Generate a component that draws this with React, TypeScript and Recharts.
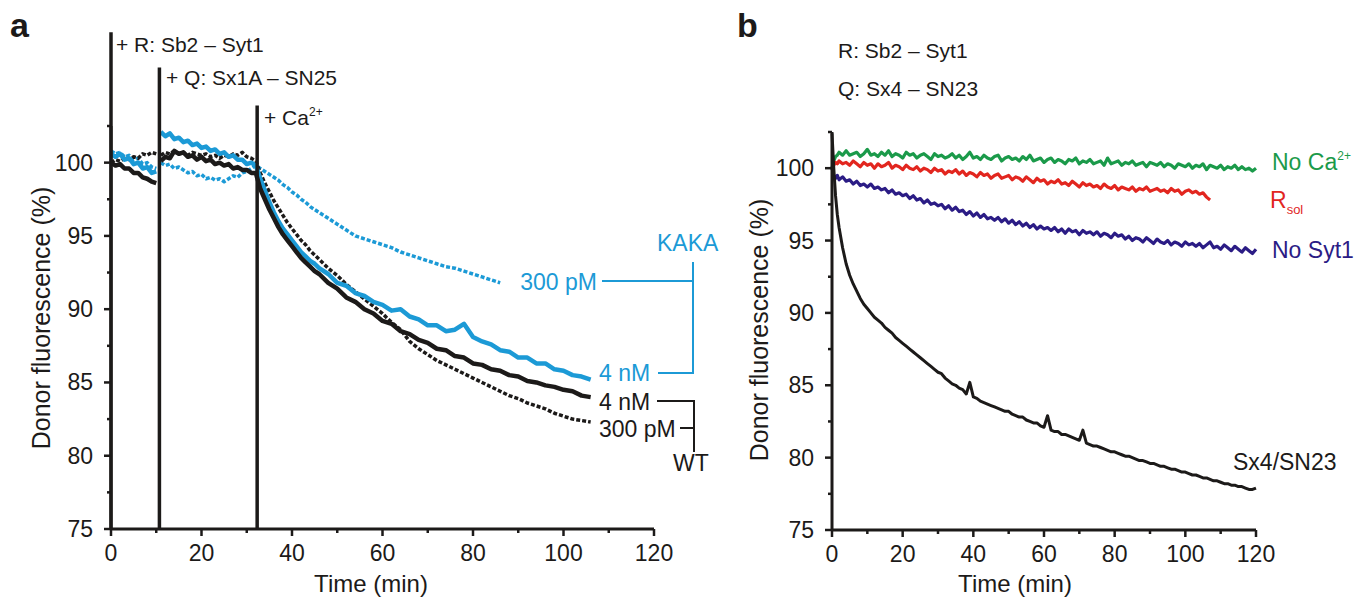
/* Donor fluorescence traces — two panels (a: Syt1/KAKA, b: Sx4/SN23) */

import { LineChart, Line, XAxis, YAxis, ReferenceLine } from 'recharts';

const FONT = "'Liberation Sans', Arial, Helvetica, sans-serif";
const INK = '#1c1a19';
const BLUE = '#1c9ad6';
const GREEN = '#1b9a4a';
const RED = '#e2261f';
const NAVY = '#2b1c85';

const X_TICKS = [0, 10, 20, 30, 40, 50, 60, 70, 80, 90, 100, 110, 120];
const Y_TICKS = [75, 77.5, 80, 82.5, 85, 87.5, 90, 92.5, 95, 97.5, 100, 102.5];

/* ── panel a ─────────────────────────────────────────────────────── */
// 10.7 is the Q addition: every trace is broken there
const TIME_A = [
  0, 1, 2, 3, 4, 5, 6, 7, 8, 9, 10, 10.7,
  11, 12, 13, 14, 15, 16, 17, 18, 19, 20, 21, 22, 23, 24, 25, 26, 27, 28, 29, 30, 31, 32,
  33, 34, 35, 36, 37, 38, 39, 40, 41, 42, 43, 44, 45,
  46, 48, 50, 52, 54, 56, 58, 60, 62, 64, 66, 68, 70, 72, 74, 76, 78, 80,
  82, 84, 86, 88, 90, 92, 94, 96, 98, 100, 102, 104, 106,
];
const WT_4NM = [
  100.0, 99.8, 99.9, 99.6, 99.6, 99.3, 99.3, 99.0, 98.9, 98.7, 98.6, null,
  100.1, 100.4, 100.3, 100.8, 100.6, 100.7, 100.4, 100.5, 100.2, 100.4, 100.1, 100.2, 99.9, 100.0, 99.8, 99.9, 99.6, 99.7, 99.5, 99.5, 99.3, 99.3,
  98.2, 97.5, 96.8, 96.2, 95.6, 95.1, 94.7, 94.3, 93.9, 93.5, 93.2, 92.9, 92.6,
  92.4, 91.8, 91.4, 90.8, 90.5, 90.0, 89.7, 89.2, 89.0, 88.5, 88.3, 87.9, 87.7, 87.3, 87.2, 86.8, 86.7, 86.3,
  86.2, 85.9, 85.8, 85.5, 85.4, 85.1, 85.0, 84.8, 84.7, 84.5, 84.4, 84.1, 84.0,
];
const WT_300PM = [
  100.0, 100.2, 100.1, 100.3, 100.2, 100.4, 100.3, 100.6, 100.5, 100.7, 100.6, null,
  100.5, 100.7, 100.6, 100.8, 100.6, 100.7, 100.5, 100.7, 100.6, 100.5, 100.6, 100.4, 100.5, 100.3, 100.5, 100.4, 100.6, 100.5, 100.7, 100.4, 100.3, 100.1,
  99.3, 98.6, 98.0, 97.4, 96.9, 96.4, 95.9, 95.5, 95.1, 94.7, 94.4, 94.0, 93.7,
  93.4, 92.8, 92.3, 91.7, 91.2, 90.7, 90.2, 89.7, 89.1, 88.6, 87.8, 87.3, 86.9, 86.5, 86.2, 85.9, 85.6, 85.3,
  85.0, 84.7, 84.4, 84.1, 83.9, 83.6, 83.4, 83.2, 82.9, 82.7, 82.5, 82.4, 82.3,
];
const KAKA_4NM = [
  100.6, 100.4, 100.6, 100.2, 100.3, 99.9, 100.0, 99.6, 99.7, 99.3, 99.4, null,
  102.1, 101.8, 102.0, 101.6, 101.7, 101.4, 101.5, 101.2, 101.3, 101.0, 101.1, 100.8, 100.9, 100.6, 100.7, 100.4, 100.5, 100.2, 100.2, 99.9, 100.0, 99.8,
  98.9, 98.1, 97.3, 96.6, 96.0, 95.5, 95.1, 94.7, 94.3, 93.9, 93.6, 93.3, 93.1,
  92.8, 92.4, 91.8, 91.6, 91.1, 90.9, 90.5, 90.3, 89.9, 90.0, 89.5, 89.3, 88.9, 88.9, 88.5, 88.6, 89.0, 88.1,
  87.8, 87.6, 87.2, 87.1, 86.7, 86.7, 86.3, 86.3, 85.9, 85.8, 85.5, 85.4, 85.2,
];
const KAKA_300PM = [
  100.8, 100.6, 100.7, 100.4, 100.5, 100.2, 100.3, 99.9, 100.0, 99.7, 99.6, null,
  100.0, 99.8, 99.9, 99.6, 99.7, 99.5, 99.3, 99.4, 99.1, 99.2, 98.9, 99.0, 98.8, 98.9, 98.7, 98.9, 99.1, 99.0, 99.3, 99.4, 99.6, 99.8,
  99.6, 99.4, 99.2, 99.0, 98.8, 98.5, 98.3, 98.0, 97.8, 97.5, 97.3, 97.0, 96.8,
  96.6, 96.2, 95.8, 95.4, 95.0, 94.8, 94.6, 94.4, 94.2, 93.9, 93.7, 93.5, 93.3, 93.1, 92.9, 92.8, 92.6, 92.4,
  92.2, 92.0, 91.8, null, null, null, null, null, null, null, null, null, null,
];
// additions: time of addition and how high the marker line reaches
const ADD_TIMES = [0, 10.7, 32.3];
const ADD_TOPS = [108.9, 106.5, 103.9];

/* ── panel b ─────────────────────────────────────────────────────── */
const TIME_B = [
  0, 0.5, 1, 1.5, 2,
  3, 4, 5, 6, 7, 8, 9, 10, 11, 12,
  13, 14, 15, 16, 17, 18, 19, 20, 21, 22,
  23, 24, 25, 26, 27, 28, 29, 30, 31, 32,
  33, 34, 35, 36, 37, 38, 39, 40, 41, 42,
  43, 44, 45, 46, 47, 48, 49, 50, 51, 52,
  53, 54, 55, 56, 57, 58, 59, 60, 61, 62,
  63, 64, 65, 66, 67, 68, 69, 70, 71, 72,
  73, 74, 75, 76, 77, 78, 79, 80, 81, 82,
  83, 84, 85, 86, 87, 88, 89, 90, 91, 92,
  93, 94, 95, 96, 97, 98, 99, 100, 101, 102,
  103, 104, 105, 106, 107, 108, 109, 110, 111, 112,
  113, 114, 115, 116, 117, 118, 119, 120,
];
const NO_CA = [
  100.0, 100.5, 100.8, 100.9, 101.1,
  100.9, 101.2, 100.9, 101.0, 101.1, 100.8, 101.0, 101.3, 100.9, 101.0,
  100.8, 101.1, 100.9, 101.2, 100.8, 101.0, 100.9, 100.7, 101.1, 100.9,
  101.0, 100.7, 100.9, 101.0, 100.8, 100.6, 101.0, 100.8, 100.9, 100.7,
  100.8, 101.0, 100.7, 100.9, 100.6, 100.8, 101.1, 100.7, 100.8, 100.6,
  100.9, 100.7, 100.6, 100.8, 100.9, 100.5, 100.7, 100.8, 100.6, 100.7,
  100.5, 100.8, 100.6, 100.9, 100.5, 100.6, 100.7, 100.4, 100.6, 100.7,
  100.4, 100.6, 100.5, 100.3, 100.6, 100.5, 100.7, 100.3, 100.5, 100.4,
  100.6, 100.3, 100.4, 100.5, 100.2, 100.7, 100.3, 100.4, 100.5, 100.2,
  100.4, 100.3, 100.5, 100.2, 100.3, 100.4, 100.1, 100.4, 100.3, 100.2,
  100.4, 100.1, 100.3, 100.2, 100.0, 100.3, 100.2, 100.1, 100.3, 100.0,
  100.2, 100.1, 100.3, 99.9, 100.2, 100.1, 100.0, 100.2, 99.9, 100.1,
  100.0, 100.2, 99.9, 100.1, 99.9, 100.0, 99.8, 100.0,
];
const R_SOL = [
  100.0, 100.2, 100.4, 100.3, 100.5,
  100.3, 100.4, 100.2, 100.5, 100.3, 100.1, 100.4, 100.2, 100.3, 100.0,
  100.3, 100.1, 100.2, 100.4, 100.0, 100.2, 100.1, 99.9, 100.2, 100.0,
  99.9, 100.1, 99.8, 100.0, 99.9, 99.7, 100.0, 99.8, 99.9, 99.6,
  99.8, 99.7, 99.9, 99.6, 99.8, 99.5, 99.7, 99.6, 99.4, 99.7,
  99.5, 99.6, 99.3, 99.5, 99.6, 99.3, 99.4, 99.5, 99.2, 99.4,
  99.3, 99.1, 99.4, 99.2, 99.0, 99.3, 99.1, 99.2, 98.9, 99.1,
  99.0, 99.2, 98.9, 99.0, 98.8, 99.1, 98.9, 98.7, 99.0, 98.8,
  98.9, 98.7, 98.8, 98.6, 98.9, 98.7, 98.6, 98.8, 98.5, 98.7,
  98.6, 98.5, 98.7, 98.4, 98.6, 98.5, 98.7, 98.4, 98.5, 98.6,
  98.4, 98.5, 98.3, 98.6, 98.4, 98.5, 98.2, 98.4, 98.5, 98.3,
  98.4, 98.2, 98.3, 98.0, 97.8, null, null, null, null, null,
  null, null, null, null, null, null, null, null,
];
const NO_SYT1 = [
  100.0, 99.5, 99.3, 99.5, 99.2,
  99.4, 99.1, 99.2, 98.9, 99.1, 98.8, 98.9, 98.7, 98.9, 98.6,
  98.7, 98.5, 98.6, 98.3, 98.5, 98.2, 98.3, 98.1, 98.2, 97.9,
  98.1, 97.8, 97.9, 97.6, 97.8, 97.5, 97.6, 97.4, 97.5, 97.2,
  97.4, 97.1, 97.3, 97.0, 97.1, 96.8, 97.0, 96.7, 96.9, 96.6,
  96.8, 96.5, 96.6, 96.4, 96.6, 96.3, 96.5, 96.2, 96.4, 96.1,
  96.3, 96.0, 96.2, 95.9, 96.1, 95.8, 96.0, 95.8, 95.9, 95.7,
  95.9, 95.6, 95.8, 95.5, 95.8, 95.6, 95.7, 95.4, 95.7, 95.5,
  95.6, 95.4, 95.6, 95.3, 95.5, 95.4, 95.2, 95.5, 95.3, 95.4,
  95.1, 95.3, 95.0, 95.2, 95.1, 94.9, 95.2, 95.0, 94.8, 95.1,
  94.9, 94.8, 95.0, 94.7, 94.9, 94.8, 94.6, 94.9, 94.7, 94.8,
  94.6, 94.8, 94.5, 94.7, 94.9, 94.5, 94.6, 94.4, 94.7, 94.5,
  94.3, 94.6, 94.4, 94.2, 94.5, 94.3, 94.1, 94.4,
];
const SX4_SN23 = [
  102.4, 100.0, 98.1, 96.8, 95.9,
  94.5, 93.4, 92.6, 92.0, 91.5, 91.0, 90.6, 90.3, 90.0, 89.7,
  89.5, 89.3, 89.0, 88.8, 88.6, 88.3, 88.1, 87.9, 87.7, 87.5,
  87.3, 87.1, 86.9, 86.7, 86.5, 86.3, 86.1, 85.9, 85.8, 85.5,
  85.3, 85.1, 85.0, 84.8, 84.7, 84.4, 85.2, 84.2, 84.1, 83.9,
  83.8, 83.7, 83.6, 83.5, 83.4, 83.3, 83.2, 83.2, 83.0, 82.9,
  82.8, 82.8, 82.6, 82.5, 82.4, 82.4, 82.2, 82.1, 82.9, 81.9,
  81.8, 81.8, 81.6, 81.6, 81.5, 81.4, 81.3, 81.2, 81.9, 81.0,
  80.9, 80.8, 80.8, 80.7, 80.6, 80.5, 80.4, 80.4, 80.3, 80.2,
  80.1, 80.1, 80.0, 79.9, 79.8, 79.8, 79.7, 79.6, 79.6, 79.5,
  79.4, 79.4, 79.3, 79.2, 79.2, 79.1, 79.0, 79.0, 78.9, 78.8,
  78.8, 78.7, 78.6, 78.6, 78.5, 78.4, 78.4, 78.3, 78.2, 78.2,
  78.1, 78.1, 78.0, 78.0, 77.9, 77.8, 77.8, 77.9,
];

const rowsA = TIME_A.map((t, i) => ({
  t, wt4: WT_4NM[i], wt300: WT_300PM[i], kaka4: KAKA_4NM[i], kaka300: KAKA_300PM[i],
}));
const rowsB = TIME_B.map((t, i) => ({
  t, noCa: NO_CA[i], rsol: R_SOL[i], noSyt1: NO_SYT1[i], sx4: SX4_SN23[i],
}));

/* custom ticks: long + label on majors, short stub on minors */
function XTick({ x, y, payload }: any) {
  const major = payload.value % 20 === 0;
  return (
    <g>
      <line x1={x} x2={x} y1={y} y2={y + (major ? 7 : 4)} stroke={INK} strokeWidth={2.5} />
      {major && (
        <text x={x} y={y + 32} textAnchor="middle" fontSize={23} fontFamily={FONT} fill={INK}>
          {payload.value}
        </text>
      )}
    </g>
  );
}

function YTick({ x, y, payload }: any) {
  const major = payload.value % 5 === 0;
  return (
    <g>
      <line x1={x - (major ? 7 : 4)} x2={x} y1={y} y2={y} stroke={INK} strokeWidth={2.5} />
      {major && (
        <text x={x - 18} y={y + 8} textAnchor="end" fontSize={23} fontFamily={FONT} fill={INK}>
          {payload.value}
        </text>
      )}
    </g>
  );
}

const axisCommon = {
  axisLine: { stroke: INK, strokeWidth: 3 },
  tickLine: false,
  tickSize: 0,
  tickMargin: 0,
  interval: 0 as const,
};

const trace = { dot: false, activeDot: false, isAnimationActive: false, strokeLinejoin: 'round' as const };

export default function App() {
  const txt = { fontFamily: FONT, fill: INK };
  return (
    <div style={{ position: 'fixed', left: 0, top: 0, width: 1356, height: 601, background: '#fff' }}>
      {/* ── panel a ── */}
      <div style={{ position: 'absolute', left: 0, top: 0 }}>
        <LineChart width={730} height={601} data={rowsA} margin={{ top: 126, right: 76, bottom: 22, left: 51 }}>
          <XAxis dataKey="t" type="number" domain={[0, 120]} ticks={X_TICKS} height={50} tick={<XTick />} {...axisCommon} />
          <YAxis type="number" domain={[75, 102.5]} ticks={Y_TICKS} width={60} tick={<YTick />} {...axisCommon} />
          <Line dataKey="kaka300" stroke={BLUE} strokeWidth={3.5} strokeDasharray="4 2" {...trace} />
          <Line dataKey="wt300" stroke={INK} strokeWidth={3.5} strokeDasharray="4 2" {...trace} />
          <Line dataKey="kaka4" stroke={BLUE} strokeWidth={4.5} {...trace} />
          <Line dataKey="wt4" stroke={INK} strokeWidth={4.5} {...trace} />
          {ADD_TIMES.map((t, i) => (
            <ReferenceLine
              key={t}
              segment={[{ x: t, y: 75 }, { x: t, y: ADD_TOPS[i] }]}
              stroke={INK}
              strokeWidth={3.5}
              ifOverflow="visible"
            />
          ))}
        </LineChart>
      </div>

      {/* ── panel b ── */}
      <div style={{ position: 'absolute', left: 740, top: 0 }}>
        <LineChart width={600} height={601} data={rowsB} margin={{ top: 132, right: 84, bottom: 21, left: 32 }}>
          <XAxis dataKey="t" type="number" domain={[0, 120]} ticks={X_TICKS} height={50} tick={<XTick />} {...axisCommon} />
          <YAxis type="number" domain={[75, 102.5]} ticks={Y_TICKS} width={60} tick={<YTick />} {...axisCommon} />
          <Line dataKey="noCa" stroke={GREEN} strokeWidth={3.2} {...trace} />
          <Line dataKey="rsol" stroke={RED} strokeWidth={3.2} {...trace} />
          <Line dataKey="noSyt1" stroke={NAVY} strokeWidth={3.2} {...trace} />
          <Line dataKey="sx4" stroke={INK} strokeWidth={3} {...trace} />
        </LineChart>
      </div>

      {/* ── annotations ── */}
      <svg width={1356} height={601} style={{ position: 'absolute', left: 0, top: 0, pointerEvents: 'none' }}>
        <text x={10} y={37} fontSize={34} fontWeight="bold" {...txt}>a</text>
        <text x={116} y={52} fontSize={21} {...txt}>+ R: Sb2 – Syt1</text>
        <text x={166} y={85} fontSize={21} {...txt}>+ Q: Sx1A – SN25</text>
        <text x={264} y={125} fontSize={21} {...txt}>+ Ca<tspan dy={-9} fontSize={12}>2+</tspan></text>

        <text x={657} y={251} fontSize={23} fontFamily={FONT} fill={BLUE}>KAKA</text>
        <text x={597} y={290} fontSize={23} fontFamily={FONT} fill={BLUE} textAnchor="end">300 pM</text>
        <text x={599} y={381} fontSize={23} fontFamily={FONT} fill={BLUE}>4 nM</text>
        <polyline points="602,281 693,281" stroke={BLUE} strokeWidth={2} fill="none" />
        <polyline points="693,262 693,373 658,373" stroke={BLUE} strokeWidth={2} fill="none" />
        <text x={599} y={410} fontSize={23} {...txt}>4 nM</text>
        <text x={599} y={437} fontSize={23} {...txt}>300 pM</text>
        <polyline points="657,401 694,401 694,452" stroke={INK} strokeWidth={2} fill="none" />
        <polyline points="680,428 694,428" stroke={INK} strokeWidth={2} fill="none" />
        <text x={673} y={471} fontSize={23} {...txt}>WT</text>

        <text x={371} y={592} fontSize={24} textAnchor="middle" {...txt}>Time (min)</text>
        <text transform="translate(50,318) rotate(-90)" fontSize={25} textAnchor="middle" {...txt}>Donor fluorescence (%)</text>

        <text x={737} y={37} fontSize={34} fontWeight="bold" {...txt}>b</text>
        <text x={838} y={58} fontSize={21} {...txt}>R: Sb2 – Syt1</text>
        <text x={838} y={96} fontSize={21} {...txt}>Q: Sx4 – SN23</text>
        <text x={1272} y={170} fontSize={23} fontFamily={FONT} fill={GREEN}>No Ca<tspan dy={-10} fontSize={12}>2+</tspan></text>
        <text x={1270} y={208} fontSize={23} fontFamily={FONT} fill={RED}>R<tspan dy={6} fontSize={13}>sol</tspan></text>
        <text x={1272} y={258} fontSize={23} fontFamily={FONT} fill={NAVY}>No Syt1</text>
        <text x={1233} y={470} fontSize={23} {...txt}>Sx4/SN23</text>

        <text x={1015} y={592} fontSize={24} textAnchor="middle" {...txt}>Time (min)</text>
        <text transform="translate(768,330) rotate(-90)" fontSize={25} textAnchor="middle" {...txt}>Donor fluorescence (%)</text>
      </svg>
    </div>
  );
}
